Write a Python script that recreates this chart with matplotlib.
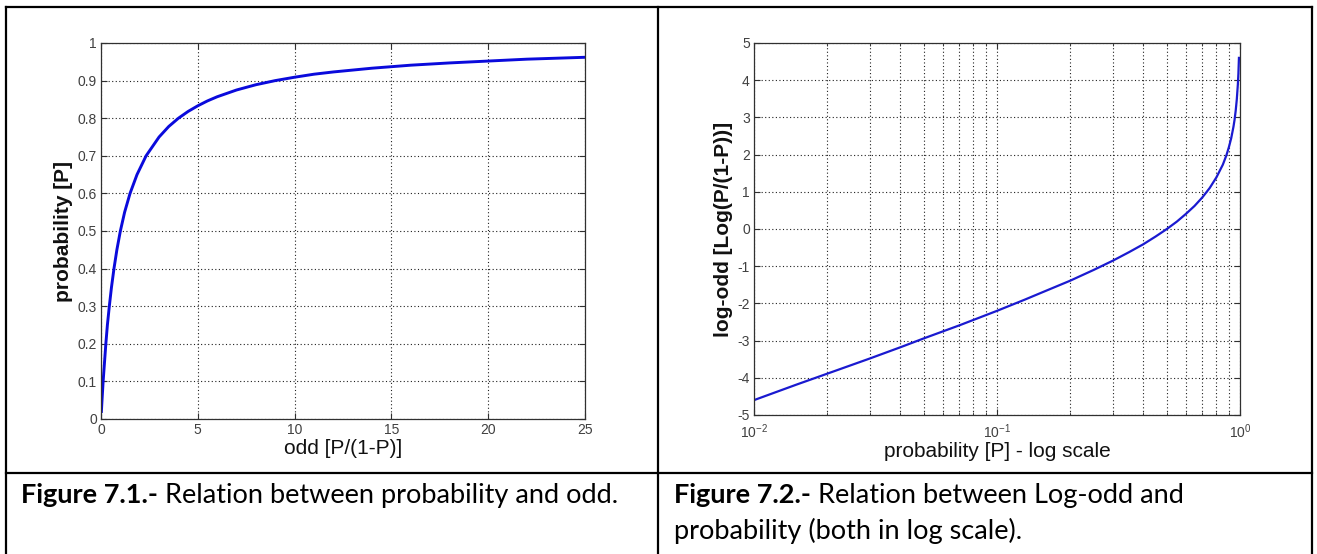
import matplotlib
matplotlib.use("Agg")
import matplotlib.pyplot as plt
from matplotlib.lines import Line2D
from matplotlib.ticker import LogLocator, FixedLocator

# ---- data ----
odd_values = [0.02, 0.05, 0.11, 0.18, 0.25, 0.33, 0.43, 0.54, 0.67, 0.82, 1.0, 1.22, 1.5,
              1.86, 2.33, 3.0, 3.5, 4.0, 4.5, 5.0, 5.5, 6.0, 7.0, 8.0, 9.0, 10.0, 11.0,
              12.0, 14.0, 16.0, 18.0, 20.0, 22.0, 25.0]
prob_values = [0.02, 0.048, 0.10, 0.15, 0.20, 0.25, 0.30, 0.35, 0.40, 0.45, 0.50, 0.55, 0.60,
               0.65, 0.70, 0.75, 0.778, 0.80, 0.818, 0.833, 0.846, 0.857, 0.875, 0.889, 0.90,
               0.909, 0.917, 0.923, 0.933, 0.941, 0.947, 0.952, 0.957, 0.962]

p_log_values = [0.01, 0.015, 0.02, 0.03, 0.04, 0.05, 0.07, 0.10, 0.13, 0.15, 0.20, 0.25,
                0.30, 0.35, 0.40, 0.45, 0.50, 0.55, 0.60, 0.65, 0.70, 0.75, 0.80, 0.85,
                0.88, 0.90, 0.92, 0.94, 0.95, 0.96, 0.97, 0.98, 0.985, 0.99]
logodd_values = [-4.60, -4.18, -3.89, -3.48, -3.18, -2.94, -2.59, -2.20, -1.90, -1.73, -1.39,
                 -1.10, -0.85, -0.62, -0.41, -0.20, 0.0, 0.20, 0.41, 0.62, 0.85, 1.10, 1.39,
                 1.73, 1.99, 2.20, 2.44, 2.75, 2.94, 3.18, 3.48, 3.89, 4.18, 4.60]

left_yticks = [0, 0.1, 0.2, 0.3, 0.4, 0.5, 0.6, 0.7, 0.8, 0.9, 1]
left_yticklabels = ["0", "0.1", "0.2", "0.3", "0.4", "0.5", "0.6", "0.7", "0.8", "0.9", "1"]
left_xticks = [0, 5, 10, 15, 20, 25]
right_yticks = [-5, -4, -3, -2, -1, 0, 1, 2, 3, 4, 5]
right_xticks = [0.01, 0.1, 1]
right_xticklabels = ["$10^{-2}$", "$10^{-1}$", "$10^{0}$"]

caption1_bold = "Figure 7.1.-"
caption1_rest = " Relation between probability and odd."
caption2_bold = "Figure 7.2.-"
caption2_rest = " Relation between Log-odd and"
caption2_line2 = "probability (both in log scale)."

W, H = 1317, 554
plt.rcParams['font.family'] = ['Liberation Sans', 'DejaVu Sans']
plt.rcParams['mathtext.fontset'] = 'custom'
plt.rcParams['mathtext.rm'] = 'Liberation Sans'
plt.rcParams['mathtext.it'] = 'Liberation Sans'
plt.rcParams['mathtext.default'] = 'regular'
plt.rcParams['axes.unicode_minus'] = False

fig = plt.figure(figsize=(W / 100, H / 100), dpi=100)
fig.patch.set_facecolor('white')

def fx(px):
    return px / W

def fy(py):
    return 1 - py / H

tick_color = '#404040'
grid_kw = dict(color='#202020', linestyle=(0, (1, 2.2)), linewidth=0.8)

def style_axes(ax):
    for s in ax.spines.values():
        s.set_color('#303030')
        s.set_linewidth(0.9)
    ax.tick_params(direction='in', length=4, width=0.8, color='#303030',
                   labelsize=10, labelcolor=tick_color, top=True, right=True, pad=3)
    ax.tick_params(which='minor', direction='in', length=2.5, width=0.6,
                   color='#303030', top=True, right=True)
    ax.set_axisbelow(True)

label_size = 15

# ---- left axes ----
axL = fig.add_axes([fx(101), fy(419), fx(585 - 101), (419 - 43) / H])
axL.plot(odd_values, prob_values, color='#0a0adc', linewidth=2.1, solid_joinstyle='round')
axL.set_xlim(0, 25)
axL.set_ylim(0, 1)
axL.set_xticks(left_xticks)
axL.set_yticks(left_yticks)
axL.set_yticklabels(left_yticklabels)
axL.grid(True, which='major', **grid_kw)
style_axes(axL)
axL.set_xlabel("odd [P/(1-P)]", fontsize=label_size, labelpad=1, color='#111111')
axL.set_ylabel("probability [P]", fontsize=label_size, labelpad=3, color='#111111',
               fontweight='bold')

# ---- right axes ----
axR = fig.add_axes([fx(754), fy(415), fx(1240 - 754), (415 - 43) / H])
axR.plot(p_log_values, logodd_values, color='#1a1ad0', linewidth=1.6, solid_joinstyle='round')
axR.set_xscale('log')
axR.set_xlim(0.01, 1)
axR.set_ylim(-5, 5)
axR.set_yticks(right_yticks)
axR.xaxis.set_major_locator(FixedLocator(right_xticks))
axR.set_xticklabels(right_xticklabels)
axR.xaxis.set_minor_locator(LogLocator(base=10, subs=[2, 3, 4, 5, 6, 7, 8, 9]))
axR.xaxis.set_minor_formatter(plt.NullFormatter())
axR.grid(True, which='major', **grid_kw)
axR.grid(True, which='minor', axis='x', **grid_kw)
style_axes(axR)
axR.tick_params(axis='x', pad=5)
axR.set_xlabel("probability [P] - log scale", fontsize=label_size, labelpad=1, color='#111111')
axR.set_ylabel("log-odd [Log(P/(1-P))]", fontsize=label_size, labelpad=3, color='#111111',
               fontweight='bold')

# ---- table lines ----
lw = 1.6
table_lines = [
    ([6, 1312], [7, 7]),
    ([6, 6], [7, 560]),
    ([1312, 1312], [7, 560]),
    ([658, 658], [7, 560]),
    ([6, 1312], [473, 473]),
]
for xs, ys in table_lines:
    fig.add_artist(Line2D([fx(x) for x in xs], [fy(y) for y in ys], color='black',
                          linewidth=lw, solid_capstyle='projecting'))

# ---- captions ----
cap_font = ['Lato', 'DejaVu Sans']
cap_size = 19.5

def caption(x, y, bold, rest):
    t = fig.text(fx(x), fy(y), bold, fontsize=cap_size, fontweight='bold', family=cap_font,
                 va='center', ha='left', color='black')
    fig.canvas.draw()
    bb = t.get_window_extent()
    fig.text(bb.x1 / W, fy(y), rest, fontsize=cap_size, family=cap_font,
             va='center', ha='left', color='black')

caption(21, 495, caption1_bold, caption1_rest)
caption(674, 495, caption2_bold, caption2_rest)
fig.text(fx(674), fy(531), caption2_line2, fontsize=cap_size, family=cap_font,
         va='center', ha='left', color='black')

fig.savefig('out.png', dpi=100, facecolor='white')
